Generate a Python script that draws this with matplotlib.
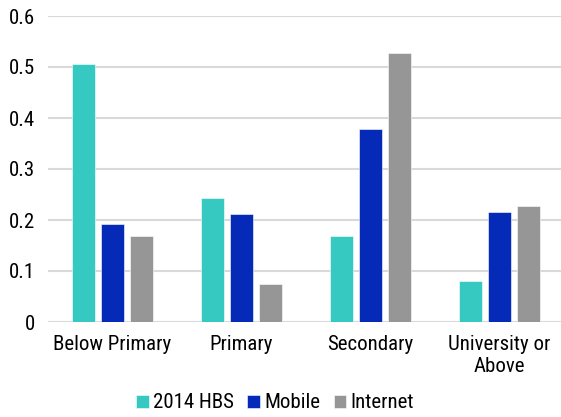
import numpy as np
import matplotlib.pyplot as plt
from matplotlib import font_manager

# data
categories = ["Below Primary", "Primary", "Secondary", "University or\nAbove"]
series = ["2014 HBS", "Mobile", "Internet"]
hbs = [0.505, 0.243, 0.168, 0.081]
mobile = [0.193, 0.212, 0.378, 0.215]
internet = [0.168, 0.074, 0.528, 0.227]
yticks = [0, 0.1, 0.2, 0.3, 0.4, 0.5, 0.6]
ytick_labels = ["0", "0.1", "0.2", "0.3", "0.4", "0.5", "0.6"]

colors = ["#35C9C1", "#062AB8", "#969696"]

names = {f.name for f in font_manager.fontManager.ttflist}
family = "Roboto Condensed" if "Roboto Condensed" in names else "Roboto"
plt.rcParams["font.family"] = [family, "DejaVu Sans"]

W, H = 561, 417
fig = plt.figure(figsize=(W / 100, H / 100), dpi=100)
ax = fig.add_axes([48 / W, 1 - 322 / H, 516 / W, 306 / H])

x = np.arange(len(categories))
width = 0.178
offset = 0.225
for i, (vals, name) in enumerate(zip([hbs, mobile, internet], series)):
    ax.bar(x + (i - 1) * offset, vals, width, color=colors[i], label=name,
           edgecolor="white", linewidth=0.4, zorder=3)

ax.set_ylim(0, 0.6)
ax.set_xlim(-0.5, 3.5)
ax.set_yticks(yticks)
ax.set_yticklabels(ytick_labels)
ax.set_xticks(x)
ax.set_xticklabels(categories, linespacing=1.25)
ax.tick_params(axis="both", length=0, labelsize=15, colors="black")
ax.tick_params(axis="y", pad=9)
ax.tick_params(axis="x", pad=9)
ax.grid(True, axis="y", color="#D9D9D9", linewidth=1.5, zorder=0)
for s in ax.spines.values():
    s.set_visible(False)

leg = fig.legend(loc="center", bbox_to_anchor=(275 / W, 1 - 403 / H), ncol=3,
                 frameon=False, fontsize=15, handlelength=0.6, handleheight=0.6,
                 handletextpad=0.2, columnspacing=0.65, borderaxespad=0)

fig.savefig("out.png", dpi=100)
